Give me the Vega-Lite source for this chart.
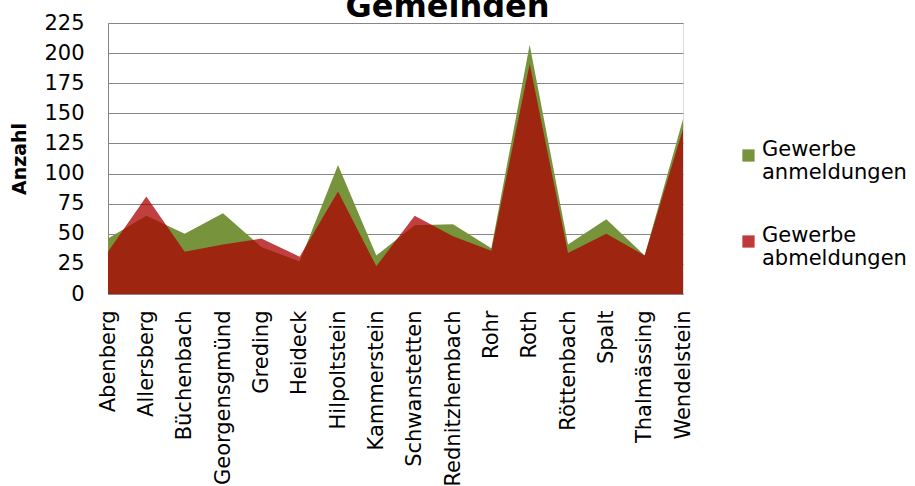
{
  "$schema": "https://vega.github.io/schema/vega-lite/v6.json",
  "width": 575,
  "height": 271,
  "autosize": "none",
  "padding": {"left": 108, "top": 23, "right": 232, "bottom": 192},
  "background": "white",
  "title": {
    "text": "Gemeinden",
    "font": "DejaVu Sans",
    "fontSize": 32,
    "fontWeight": "bold",
    "color": "#000000",
    "anchor": "middle",
    "frame": "group",
    "dx": 52,
    "offset": -37,
    "baseline": "alphabetic"
  },
  "data": {
    "values": [
      {"Gemeinde": "Abenberg", "an": 46, "ab": 35},
      {"Gemeinde": "Allersberg", "an": 65, "ab": 81},
      {"Gemeinde": "Büchenbach", "an": 50, "ab": 35},
      {"Gemeinde": "Georgensgmünd", "an": 67, "ab": 41},
      {"Gemeinde": "Greding", "an": 39, "ab": 46},
      {"Gemeinde": "Heideck", "an": 27, "ab": 31},
      {"Gemeinde": "Hilpoltstein", "an": 107, "ab": 85},
      {"Gemeinde": "Kammerstein", "an": 32, "ab": 23},
      {"Gemeinde": "Schwanstetten", "an": 57, "ab": 65},
      {"Gemeinde": "Rednitzhembach", "an": 58, "ab": 48},
      {"Gemeinde": "Rohr", "an": 38, "ab": 36},
      {"Gemeinde": "Roth", "an": 207, "ab": 191},
      {"Gemeinde": "Röttenbach", "an": 41, "ab": 34},
      {"Gemeinde": "Spalt", "an": 62, "ab": 50},
      {"Gemeinde": "Thalmässing", "an": 32, "ab": 32},
      {"Gemeinde": "Wendelstein", "an": 145, "ab": 137}
    ]
  },
  "transform": [
    {"fold": ["an", "ab"], "as": ["key", "Anzahl"]},
    {"calculate": "datum.key === 'an' ? 'Gewerbe anmeldungen' : 'Gewerbe abmeldungen'", "as": "Serie"}
  ],
  "encoding": {
    "x": {
      "field": "Gemeinde",
      "type": "nominal",
      "sort": null,
      "scale": {"type": "point", "padding": 0},
      "axis": {
        "title": null,
        "labelAngle": -90,
        "labelAlign": "right",
        "labelBaseline": "middle",
        "labelFont": "DejaVu Sans",
        "labelFontSize": 21,
        "labelColor": "#000000",
        "labelPadding": 16,
        "ticks": false,
        "domainColor": "#868686",
        "grid": false
      }
    },
    "y": {
      "field": "Anzahl",
      "type": "quantitative",
      "stack": null,
      "scale": {"domain": [0, 225], "nice": false},
      "axis": {
        "title": "Anzahl",
        "titleFont": "DejaVu Sans",
        "titleFontSize": 19,
        "titleFontWeight": "bold",
        "titleColor": "#000000",
        "titlePadding": 14,
        "values": [0, 25, 50, 75, 100, 125, 150, 175, 200, 225],
        "labelFont": "DejaVu Sans",
        "labelFontSize": 21,
        "labelColor": "#000000",
        "labelPadding": 24,
        "ticks": false,
        "domainColor": "#868686",
        "gridColor": "#868686",
        "gridWidth": 1
      }
    }
  },
  "layer": [
    {
      "transform": [{"filter": "datum.key === 'an'"}],
      "mark": {"type": "area", "opacity": 1},
      "encoding": {
        "color": {
          "field": "Serie",
          "type": "nominal",
          "scale": {
            "domain": ["Gewerbe anmeldungen", "Gewerbe abmeldungen"],
            "range": ["#77933C", "#C0393D"]
          },
          "legend": {
            "title": null,
            "orient": "none",
            "legendX": 630,
            "legendY": 122,
            "symbolType": "square",
            "symbolSize": 150,
            "symbolStrokeWidth": 0,
            "symbolOpacity": 1,
            "labelFont": "DejaVu Sans",
            "labelFontSize": 21,
            "labelColor": "#000000",
            "labelBaseline": "alphabetic",
            "labelLineHeight": 27,
            "labelLimit": 300,
            "labelOffset": 3,
            "rowPadding": 41,
            "labelExpr": "split(datum.label, ' ')"
          }
        }
      }
    },
    {
      "transform": [{"filter": "datum.key === 'ab'"}],
      "mark": {"type": "area", "color": "#AB0000", "opacity": 0.75}
    }
  ]
}
